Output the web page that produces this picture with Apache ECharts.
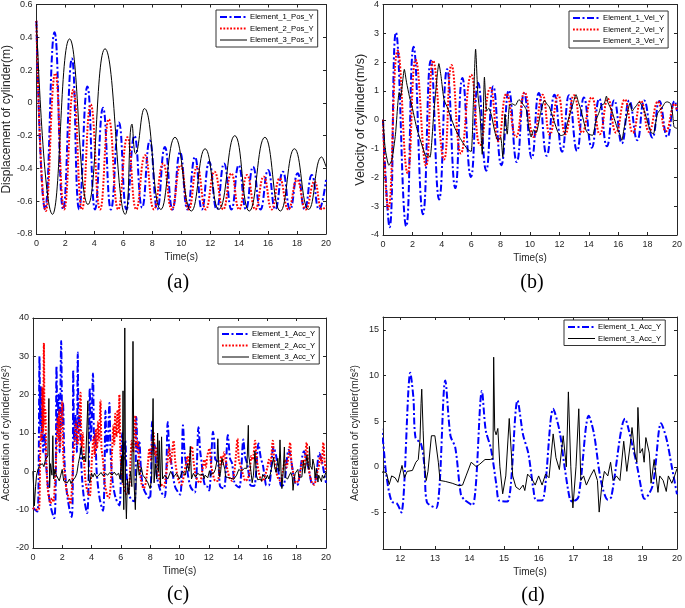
<!DOCTYPE html>
<html><head><meta charset="utf-8">
<script src="https://cdn.jsdelivr.net/npm/echarts@6/dist/echarts.min.js"></script>
<style>html,body{margin:0;padding:0;background:#fff}#c{width:685px;height:608px}</style>
</head><body><div id="c"></div>
<script>
// ---------- data (time s, value) ----------
const pos1 = [[0,0.5],[0.6,-0.65],[1.25,0.43],[1.85,-0.65],[2.45,0.27],[2.95,-0.65],[3.52,0.10],[4.05,-0.65],[4.6,-0.03],[5.15,-0.65],[5.7,-0.12],[6.22,-0.65],[6.77,-0.20],[7.3,-0.64],[7.83,-0.23],[8.35,-0.65],[8.87,-0.27],[9.4,-0.65],[9.92,-0.30],[10.43,-0.65],[10.95,-0.33],[11.43,-0.65],[11.93,-0.36],[12.45,-0.65],[12.96,-0.37],[13.47,-0.65],[13.97,-0.38],[14.47,-0.65],[14.96,-0.39],[15.48,-0.65],[16.0,-0.41],[16.5,-0.65],[17.02,-0.42],[17.52,-0.65],[18.04,-0.43],[18.53,-0.65],[19.02,-0.44],[19.52,-0.65],[20,-0.47]];
const pos2 = [[0,0.5],[0.65,-0.66],[1.3,0.18],[1.92,-0.65],[2.55,0.08],[3.15,-0.65],[3.75,-0.01],[4.4,-0.65],[5.0,-0.10],[5.65,-0.65],[6.28,-0.21],[6.9,-0.65],[7.5,-0.32],[8.12,-0.65],[8.75,-0.37],[9.35,-0.65],[9.95,-0.38],[10.52,-0.65],[11.1,-0.39],[11.7,-0.65],[12.3,-0.42],[12.9,-0.65],[13.46,-0.43],[14.0,-0.65],[14.55,-0.44],[15.12,-0.65],[15.7,-0.45],[16.25,-0.65],[16.8,-0.46],[17.4,-0.65],[18.0,-0.47],[18.6,-0.65],[19.2,-0.48],[19.75,-0.65],[20,-0.63]];
const pos3 = [[0,0.5],[1.11,-0.68],[2.29,0.39],[3.56,-0.62],[4.74,0.33],[6.14,-0.68],[6.6,-0.13],[6.85,-0.31],[7.46,-0.035],[8.6,-0.65],[9.57,-0.21],[10.7,-0.66],[11.65,-0.28],[12.6,-0.65],[13.7,-0.2],[14.7,-0.66],[15.78,-0.21],[16.85,-0.66],[17.82,-0.28],[18.8,-0.65],[19.7,-0.33],[20,-0.39]];

const vel1 = [[0,0],[0.45,-3.73],[0.88,3.03],[1.58,-3.7],[2.08,2.53],[2.72,-3.28],[3.25,2.06],[3.82,-2.77],[4.36,1.75],[4.92,-2.37],[5.4,1.45],[5.98,-1.99],[6.47,1.28],[7.02,-1.77],[7.5,1.16],[8.05,-1.58],[8.56,1.02],[9.1,-1.47],[9.6,0.92],[10.12,-1.34],[10.6,0.93],[11.14,-1.25],[11.66,0.87],[12.18,-1.11],[12.65,0.85],[13.2,-1.08],[13.67,0.77],[14.2,-0.97],[14.71,0.73],[15.23,-0.92],[15.73,0.68],[16.25,-0.82],[16.75,0.67],[17.3,-0.71],[17.77,0.67],[18.33,-0.62],[18.8,0.65],[19.34,-0.6],[19.84,0.65],[20,0.3]];
const vel2 = [[0,0],[0.36,-3.1],[1.0,2.4],[1.68,-1.86],[2.22,2.08],[2.93,-1.6],[3.41,2.05],[4.15,-1.38],[4.66,1.9],[5.3,-1.17],[6.0,1.56],[6.6,-0.88],[7.3,1.1],[7.85,-0.75],[8.4,0.9],[9.05,-0.6],[9.63,0.95],[10.25,-0.6],[10.85,0.87],[11.35,-0.52],[11.92,0.85],[12.4,-0.5],[13.0,0.85],[13.55,-0.45],[14.2,0.78],[14.75,-0.5],[15.3,0.73],[15.85,-0.45],[16.45,0.7],[17.0,-0.45],[17.55,0.65],[18.1,-0.42],[18.7,0.63],[19.25,-0.4],[19.85,0.55],[20,0.3]];
const vel3 = [[0,0],[0.15,-1.0],[0.4,-1.58],[0.6,-1.4],[0.85,-0.5],[1.0,0.5],[1.1,0.95],[1.2,0.8],[1.35,1.4],[1.45,1.75],[1.6,1.3],[1.8,0.8],[2.0,0.4],[2.3,-0.3],[2.6,-0.8],[2.85,-1.2],[2.95,-1.3],[3.05,-1.2],[3.2,-1.3],[3.45,0.2],[3.7,1.6],[3.8,1.95],[3.95,1.5],[4.15,0.7],[4.4,0.4],[4.6,0.1],[4.9,-0.3],[5.2,-0.6],[5.5,-0.85],[5.8,-1.05],[6.0,-1.1],[6.15,0.6],[6.3,2.45],[6.45,0.9],[6.6,0.2],[6.75,-1.2],[6.9,1.48],[7.05,0.3],[7.2,0.4],[7.4,0.1],[7.6,-0.4],[7.8,-0.7],[8.0,-0.6],[8.15,-1.3],[8.3,0.2],[8.45,-0.5],[8.6,0.5],[8.8,0.55],[9.0,0.5],[9.25,0.7],[9.5,0.55],[9.75,0.35],[9.9,-0.2],[10.08,-0.6],[10.25,-0.35],[10.42,-0.45],[10.71,0.21],[10.98,0.67],[11.15,0.55],[11.32,0.44],[11.62,-0.02],[11.89,-0.42],[12.1,-0.55],[12.34,-0.5],[12.55,-0.1],[12.79,0.33],[12.95,0.6],[13.13,0.87],[13.3,0.6],[13.47,0.33],[13.81,-0.36],[14.0,-0.5],[14.26,-0.54],[14.5,0.0],[14.71,0.27],[14.85,0.5],[15.05,0.56],[15.2,0.82],[15.3,0.6],[15.55,0.33],[15.91,-0.25],[16.1,-0.5],[16.25,-0.71],[16.4,-0.3],[16.52,-0.02],[16.65,0.3],[16.81,0.58],[16.95,0.3],[17.08,0.39],[17.25,0.5],[17.42,0.62],[17.6,0.5],[17.76,0.33],[18.1,-0.25],[18.25,-0.45],[18.4,-0.48],[18.67,0.21],[19.0,0.44],[19.2,0.6],[19.34,0.62],[19.57,0.56],[19.7,0.2],[19.8,-0.25],[20,-0.3]];

const acc1 = [[0,-9.5],[0.15,-10],[0.3,-10.5],[0.38,-5],[0.45,30],[0.5,12],[0.55,22],[0.6,8],[0.65,16],[0.7,5],[0.8,10],[0.9,2],[1.05,-5],[1.2,-9],[1.45,-12.2],[1.55,-5],[1.61,27.5],[1.68,10],[1.75,20],[1.82,5],[1.93,34],[2.0,12],[2.05,18],[2.15,3],[2.3,-5],[2.5,-10],[2.65,-11.9],[2.72,-3],[2.75,26.5],[2.82,8],[2.9,15],[3.0,5],[3.06,31],[3.12,10],[3.18,15],[3.3,2],[3.45,-6],[3.7,-10.9],[3.8,-2],[3.88,21.7],[3.95,8],[4.0,12],[4.1,25.5],[4.18,8],[4.25,10],[4.35,0],[4.55,-7],[4.78,-10.3],[4.88,-2],[4.95,15.8],[5.05,5],[5.12,8],[5.22,17.8],[5.3,5],[5.45,-3],[5.65,-7],[5.9,-8.9],[6.0,-2],[6.1,10],[6.2,3],[6.3,8],[6.4,-1],[6.55,-6],[6.75,-7.5],[6.95,-7.8],[7.06,14.2],[7.15,5],[7.25,8],[7.4,-1],[7.6,-5],[7.97,-7.2],[8.13,13],[8.2,5],[8.3,7],[8.45,-1],[8.7,-5],[9.0,-6.7],[9.2,12.9],[9.3,6],[9.45,2],[9.7,-4],[10.05,-6.1],[10.24,12],[10.35,5],[10.5,1],[10.75,-4],[11.05,-5.5],[11.3,11.5],[11.42,5],[11.5,2.8],[11.6,-1],[11.75,-3.8],[11.9,-4],[12.03,-5],[12.29,10.3],[12.38,7.5],[12.44,3.2],[12.6,2.5],[12.7,0],[12.77,-3.87],[13.04,-4.5],[13.3,9.45],[13.45,3.4],[13.59,2.1],[13.75,-3],[13.85,-3.6],[14.09,-4.2],[14.36,8.3],[14.47,4],[14.62,2],[14.78,-2],[14.86,-3.7],[15.1,-3.8],[15.39,7.26],[15.55,3.5],[15.7,1.5],[15.85,-2.5],[15.93,-3.7],[16.1,-3.7],[16.42,6.35],[16.6,4],[16.75,0],[16.9,-3.5],[16.97,-3.8],[17.15,-3.3],[17.45,5.6],[17.6,3.6],[17.8,-1.5],[18.0,-3.6],[18.1,-3.3],[18.5,5.25],[18.7,2.5],[18.85,0],[19.0,-3],[19.06,-3.5],[19.3,-2],[19.54,4.78],[19.7,3],[19.85,0],[20,-3]];
const acc2 = [[0,-9.5],[0.2,-10],[0.4,-10],[0.5,5],[0.55,10],[0.6,8],[0.65,22],[0.7,10],[0.75,33.5],[0.8,12],[0.85,16],[0.9,5],[1.0,-4],[1.1,-7],[1.2,-8.4],[1.3,-7],[1.4,-8],[1.5,-3],[1.6,5],[1.7,14],[1.75,8],[1.8,16],[1.85,6],[1.92,12],[2.0,18.2],[2.06,5],[2.15,0],[2.3,-5],[2.45,-7],[2.56,-8.5],[2.65,-5],[2.75,3],[2.85,8],[2.95,13],[3.05,7],[3.15,12],[3.25,20.5],[3.32,6],[3.4,10],[3.5,2],[3.6,-3],[3.75,-5.5],[3.88,-6.5],[3.95,-3],[4.05,5],[4.15,9],[4.22,4],[4.3,11],[4.38,6],[4.45,13],[4.52,8],[4.61,18.5],[4.68,6],[4.78,3],[4.9,-3],[5.05,-6],[5.18,-7],[5.3,-4],[5.4,5],[5.5,12],[5.55,7],[5.62,15],[5.7,9],[5.78,16],[5.85,10],[5.9,20],[5.97,5],[6.05,0],[6.2,-4],[6.4,-6],[6.55,-5],[6.65,2],[6.75,8],[6.85,5],[6.92,12],[6.99,14.5],[7.06,6],[7.15,8],[7.25,2],[7.4,-3],[7.56,-4.5],[7.7,-3],[7.85,2],[7.95,6],[8.05,3],[8.15,8],[8.24,10],[8.32,4],[8.42,6],[8.55,0],[8.7,-3],[8.92,-4],[9.05,-2],[9.2,3],[9.3,6],[9.4,2],[9.5,5],[9.6,8],[9.7,3],[9.85,-1],[10.0,-3],[10.15,-3.5],[10.3,-1],[10.45,2],[10.55,4],[10.65,1],[10.75,5],[10.85,6.5],[10.95,3],[11.1,-1],[11.25,-2.5],[11.4,-3],[11.55,0],[11.7,3],[11.8,1],[11.9,4],[12.05,6],[12.15,2],[12.3,-1],[12.45,-2.5],[12.6,-2.5],[12.75,1],[12.85,4],[12.95,2],[13.05,5],[13.15,3],[13.3,0],[13.45,-2],[13.6,-2.5],[13.75,0],[13.85,4],[13.96,8.5],[14.05,3],[14.2,1],[14.35,-1],[14.5,-2.5],[14.65,-2],[14.8,0],[14.9,4],[15.0,3],[15.16,8],[15.25,4],[15.4,0],[15.55,-2],[15.7,-2.5],[15.85,-1],[16.0,1],[16.1,3],[16.2,2],[16.37,8],[16.45,4],[16.6,0],[16.75,-2],[16.9,-2.5],[17.05,0],[17.2,3],[17.3,1],[17.45,4],[17.55,7.5],[17.65,2],[17.8,-1],[17.95,-3],[18.1,-2.5],[18.25,0],[18.4,3],[18.5,1],[18.68,7.5],[18.78,2],[18.9,-1],[19.05,-3],[19.2,-3.5],[19.35,-1],[19.5,1],[19.6,4],[19.7,2],[19.82,7.5],[19.9,3],[20,0]];
const acc3 = [[0,0],[0.05,-4],[0.1,-9],[0.18,-4],[0.25,-1],[0.35,0.5],[0.45,1.5],[0.55,1],[0.65,2],[0.75,1.2],[0.85,3],[0.95,2.5],[1.02,4],[1.09,19],[1.14,-4.3],[1.2,2],[1.3,-1],[1.36,9.3],[1.42,-2],[1.5,0.5],[1.6,-1],[1.7,-0.5],[1.8,-2.5],[1.9,-1],[2.0,0.5],[2.1,-2.5],[2.2,-2],[2.35,-3],[2.5,-2],[2.6,-3.2],[2.7,-2.5],[2.8,-3],[2.9,-1.5],[3.0,-0.5],[3.1,2],[3.2,4],[3.31,6.5],[3.4,3],[3.5,4],[3.6,2.5],[3.68,3],[3.75,18.4],[3.8,-2],[3.88,-3],[4.0,-0.5],[4.1,-1.5],[4.2,-0.5],[4.35,-1.5],[4.5,-1],[4.65,-0.3],[4.8,-1.2],[4.95,-0.5],[5.1,-1],[5.25,-0.3],[5.4,-1],[5.55,-0.2],[5.7,-1],[5.85,-0.5],[5.95,-2],[6.05,4],[6.1,-3],[6.15,21],[6.2,-10],[6.27,37.4],[6.32,-5],[6.38,-12.4],[6.45,-2],[6.55,-6],[6.65,0],[6.75,-4],[6.83,33.9],[6.9,-3],[6.99,-10],[7.05,-2],[7.15,3],[7.25,-1],[7.4,1],[7.5,-1],[7.7,-2],[7.85,-3],[8.0,-4.5],[8.1,-2],[8.2,19],[8.27,-3],[8.35,2],[8.45,-2],[8.51,10],[8.57,0],[8.62,8],[8.7,-4],[8.78,9],[8.85,-2],[9.0,-1],[9.2,-2],[9.4,0],[9.6,-1.5],[9.8,-0.5],[10.0,-2],[10.2,0],[10.4,-1],[10.55,2],[10.65,0],[10.74,6.5],[10.82,-2],[10.95,-0.5],[11.1,-1.5],[11.25,-0.5],[11.4,-1],[11.5,-0.5],[11.6,-0.7],[11.68,-1.93],[11.75,-1.0],[11.85,-1.2],[11.93,-1.7],[12.05,0.15],[12.12,-1.2],[12.2,-0.5],[12.35,-0.4],[12.45,0.5],[12.52,0.8],[12.57,3],[12.6,6.9],[12.62,8.5],[12.66,4],[12.7,0],[12.75,-1.5],[12.8,-0.5],[12.9,3.4],[13.0,3.4],[13.1,0.5],[13.15,-1.5],[13.3,-1.6],[13.5,-1.8],[13.7,-2.08],[13.8,-2.0],[13.9,-1.0],[14.05,0.5],[14.2,0],[14.3,0.3],[14.45,0.8],[14.6,0.8],[14.68,0.9],[14.7,12],[14.73,4],[14.77,3.5],[14.82,4.2],[14.88,0],[14.96,-2.96],[15.05,-1],[15.15,5.29],[15.25,-1],[15.34,-2.2],[15.45,-2.5],[15.55,-2.0],[15.6,-2.6],[15.68,-0.8],[15.8,-1.3],[15.9,-2.0],[16.0,-1.0],[16.1,-2.0],[16.2,-0.8],[16.3,-1.2],[16.42,3.6],[16.5,1],[16.6,-0.3],[16.71,3.4],[16.8,0],[16.86,8.2],[16.93,0],[16.99,-4.5],[17.08,0],[17.16,6.35],[17.22,-1.5],[17.3,-1.0],[17.38,-2.0],[17.5,-1],[17.6,-0.3],[17.7,-1.5],[17.75,-4.96],[17.82,-2.3],[17.9,-0.5],[18.0,-1],[18.08,0.5],[18.15,-1.5],[18.25,-1],[18.35,-1.5],[18.46,2.8],[18.55,-0.5],[18.65,2.5],[18.7,4.3],[18.78,1.5],[18.84,0.5],[18.87,6.5],[18.93,1.5],[19.0,2],[19.05,0.5],[19.1,3.2],[19.2,1.5],[19.25,-1.8],[19.34,0.8],[19.45,-2.8],[19.5,-1.0],[19.6,-1.5],[19.69,-2.7],[19.75,-1],[19.85,-1.8],[19.93,-1],[20,-0.2]];

const dTicksX = [12,13,14,15,16,17,18,19,20];
const dTicksY = [-5,0,5,10,15];
const namesPos = ['Element_1_Pos_Y','Element_2_Pos_Y','Element_3_Pos_Y'];
const namesVel = ['Element_1_Vel_Y','Element_2_Vel_Y','Element_3_Vel_Y'];
const namesAcc = ['Element_1_Acc_Y','Element_2_Acc_Y','Element_3_Acc_Y'];
const namesAccD = ['Element_1_Acc_Y','Element_3_Acc_Y'];

// ---------- styling ----------
const FONT = 'Liberation Sans, Arial, sans-serif';
const AX = '#262626';
const blueStyle = {color:'#0000ff', width:2, type:[7,2.5,2,2.5]};
const redStyle = {color:'#ff0000', width:2, type:[1.8,1.6]};
const blackStyle = {color:'#000000', width:1, type:'solid'};

const grids = [
  {left:32, top:4, width:294, height:230},
  {left:383, top:4, width:295, height:231},
  {left:32, top:318, width:294, height:230},
  {left:383, top:317, width:296, height:232}
];

function xAxes(gi, opt, name){
  const base = Object.assign({type:'value', gridIndex:gi, splitLine:{show:false},
    axisLine:{show:true,onZero:false,lineStyle:{color:AX,width:1}},
    axisTick:{show:true,inside:true,length:3,lineStyle:{color:AX}}}, opt);
  const bottom = Object.assign({}, base, {position:'bottom', name:name, nameLocation:'middle', nameGap:18,
    nameTextStyle:{fontFamily:FONT,fontSize:10,color:AX},
    axisLabel:Object.assign({show:true,margin:5,fontFamily:FONT,fontSize:9,color:AX}, opt.labelExtra||{})});
  const top = Object.assign({}, base, {position:'top', axisLabel:{show:false}});
  if (opt.tickExtra){ bottom.axisTick = Object.assign({}, base.axisTick, opt.tickExtra); top.axisTick = Object.assign({}, base.axisTick, opt.tickExtra); }
  delete bottom.labelExtra; delete bottom.tickExtra; delete top.labelExtra; delete top.tickExtra;
  return [bottom, top];
}
function yAxes(gi, opt, name, gap, fs){
  const base = Object.assign({type:'value', gridIndex:gi, splitLine:{show:false},
    axisLine:{show:true,onZero:false,lineStyle:{color:AX,width:1}},
    axisTick:{show:true,inside:true,length:3,lineStyle:{color:AX}}}, opt);
  const left = Object.assign({}, base, {position:'left', name:name, nameLocation:'middle', nameGap:gap, nameRotate:90,
    nameTextStyle:{fontFamily:FONT,fontSize:fs,color:AX},
    axisLabel:Object.assign({show:true,margin:4,fontFamily:FONT,fontSize:9,color:AX}, opt.labelExtra||{})});
  const right = Object.assign({}, base, {position:'right', axisLabel:{show:false}});
  if (opt.tickExtra){ left.axisTick = Object.assign({}, base.axisTick, opt.tickExtra); right.axisTick = Object.assign({}, base.axisTick, opt.tickExtra); }
  delete left.labelExtra; delete left.tickExtra; delete right.labelExtra; delete right.tickExtra;
  return [left, right];
}

const xAxis = [].concat(
  xAxes(0,{min:0,max:20,interval:2},'Time(s)'),
  xAxes(1,{min:0,max:20,interval:2},'Time(s)'),
  xAxes(2,{min:0,max:20,interval:2},'Time(s)'),
  xAxes(3,{min:11.5,max:20,labelExtra:{customValues:dTicksX},tickExtra:{customValues:dTicksX}},'Time(s)')
);
const yAxis = [].concat(
  yAxes(0,{min:-0.8,max:0.6,interval:0.2},'Displacement of cylinder(m)',22,12),
  yAxes(1,{min:-4,max:4,interval:1},'Velocity of cylinder(m/s)',14,12.5),
  yAxes(2,{min:-20,max:40,interval:10},'Acceleration of cylinder(m/s²)',19,10.5),
  yAxes(3,{min:-9,max:16.4,labelExtra:{customValues:dTicksY},tickExtra:{customValues:dTicksY}},'Acceleration of cylinder(m/s²)',22,10.5)
);

function line(name, data, idx, style, smooth){
  return {type:'line', name:name, data:data, xAxisIndex:idx*2, yAxisIndex:idx*2,
    symbol:'none', smooth:smooth, lineStyle:style, itemStyle:{color:style.color},
    clip:true, silent:true, z:2};
}
const series = [
  line(namesPos[0], pos1, 0, blueStyle, 0.5),
  line(namesPos[1], pos2, 0, redStyle, 0.5),
  line(namesPos[2], pos3, 0, blackStyle, 0.5),
  line(namesVel[0], vel1, 1, blueStyle, 0.5),
  line(namesVel[1], vel2, 1, redStyle, 0.5),
  line(namesVel[2], vel3, 1, blackStyle, 0.2),
  line(namesAcc[0], acc1, 2, blueStyle, 0.3),
  line(namesAcc[1], acc2, 2, redStyle, 0.3),
  line(namesAcc[2], acc3, 2, blackStyle, false),
  line(namesAccD[0], acc1, 3, blueStyle, 0.3),
  line(namesAccD[1], acc3, 3, blackStyle, false)
];

function legend(data, left, top){
  return {data:data, left:left, top:top, orient:'vertical', itemWidth:27, itemHeight:8, itemGap:3.5,
    padding:[3,4,3,3], borderColor:'#333', borderWidth:1, backgroundColor:'#fff', borderRadius:0,
    selectedMode:false, itemStyle:{opacity:0}, lineStyle:{width:'inherit', type:'inherit'},
    textStyle:{fontFamily:FONT,fontSize:7.7,color:'#000',padding:[0,0,0,-2]}};
}
function sub(text, x, y){
  return {text:text, left:x, top:y, textAlign:'center', padding:0,
    textStyle:{fontFamily:'Liberation Serif, serif', fontSize:20, fontWeight:'normal', color:'#000'}};
}

const chart = echarts.init(document.getElementById('c'), null, {renderer:'canvas'});
chart.setOption({
  animation:false,
  backgroundColor:'#fff',
  title:[sub('(a)',178,273), sub('(b)',532,273), sub('(c)',178,585), sub('(d)',533,586)],
  grid:grids,
  xAxis:xAxis,
  yAxis:yAxis,
  legend:[legend(namesPos,216,10), legend(namesVel,569,11), legend(namesAcc,218,327), legend(namesAccD,564,320)],
  series:series
});
</script></body></html>
